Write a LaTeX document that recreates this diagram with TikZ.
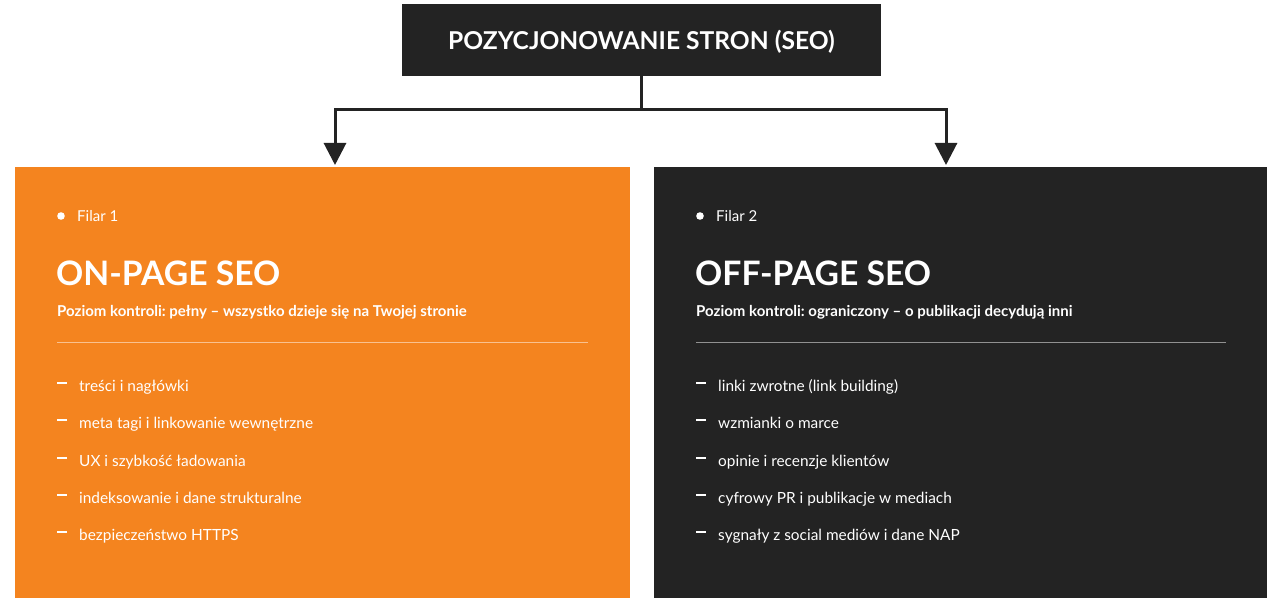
\documentclass[tikz,border=0pt]{standalone}
\usepackage{fontspec}
\setmainfont{Lato}
\usetikzlibrary{arrows.meta}
\definecolor{dark}{HTML}{232323}
\definecolor{orng}{HTML}{F4841F}
\frenchspacing
\tikzset{
  px/.style={x=1pt,y=-1pt},
  conn/.style={line width=3pt, draw=dark, -{Triangle[width=22pt,length=22pt]}},
  filar/.style={anchor=base west, inner sep=0pt, text=white, font=\fontsize{15}{17}\selectfont},
  bigtitle/.style={anchor=base west, inner sep=0pt, text=white, font=\fontsize{33.7}{37}\selectfont\bfseries},
  subt/.style={anchor=base west, inner sep=0pt, text=white, font=\fontsize{15}{17}\selectfont\bfseries},
  item/.style={anchor=base west, inner sep=0pt, text=white, font=\fontsize{15.4}{18}\selectfont},
  dashmark/.style={fill=white, draw=none},
  divider/.style={draw=white, draw opacity=0.5, line width=0.8pt},
}
\begin{document}
\begin{tikzpicture}[px]
\useasboundingbox[fill=white] (0,0) rectangle (1279,609);
% top box and its title
\node[fill=dark, minimum width=479pt, minimum height=72pt, inner sep=0pt] (top) at (641.5,40) {};
\node[text=white, inner sep=0pt, font=\fontsize{24.6}{27}\selectfont\bfseries] (toptxt) at (641.5,42) {POZYCJONOWANIE STRON (SEO)};
% panels
\node[fill=orng, minimum width=615pt, minimum height=431pt, inner sep=0pt, anchor=north west] (left) at (15,167) {};
\node[fill=dark, minimum width=613pt, minimum height=431pt, inner sep=0pt, anchor=north west] (right) at (654,167) {};
% connectors
\coordinate (j) at (641.5,110);
\coordinate (la) at (335,165);
\coordinate (ra) at (946,165);
\draw[conn] (top.south) -- (j) -| (la);
\draw[conn] (j) -| (ra);
% panel content
\foreach \ox/\fil/\ttl/\sub/\dw in {
  0/{Filar 1}/{ON-PAGE SEO}/{Poziom kontroli: pełny – wszystko dzieje się na Twojej stronie}/531,
  639/{Filar 2}/{OFF-PAGE SEO}/{Poziom kontroli: ograniczony – o publikacji decydują inni}/530}{
  \fill[white] (61+\ox,216) circle (3.8pt);
  \node[filar] (f\ox) at (77+\ox,222) {\fil};
  \node[bigtitle] (t\ox) at (56+\ox,286) {\ttl};
  \node[subt] (s\ox) at (57+\ox,316.5) {\sub};
  \draw[divider] (57+\ox,342.5) -- (57+\ox+\dw,342.5);
}
\foreach \y/\txt [count=\i] in {391/{treści i nagłówki},428/{meta tagi i linkowanie wewnętrzne},466/{UX i szybkość ładowania},503/{indeksowanie i dane strukturalne},540/{bezpieczeństwo HTTPS}}{
  \fill[dashmark] (57,\y-9) rectangle (67,\y-7);
  \node[item] (l\i) at (79,\y) {\txt};
}
\foreach \y/\txt [count=\i] in {391/{linki zwrotne (link building)},428/{wzmianki o marce},466/{opinie i recenzje klientów},503/{cyfrowy PR i publikacje w mediach},540/{sygnały z social mediów i dane NAP}}{
  \fill[dashmark] (696,\y-9) rectangle (706,\y-7);
  \node[item] (r\i) at (718,\y) {\txt};
}
\end{tikzpicture}
\end{document}
